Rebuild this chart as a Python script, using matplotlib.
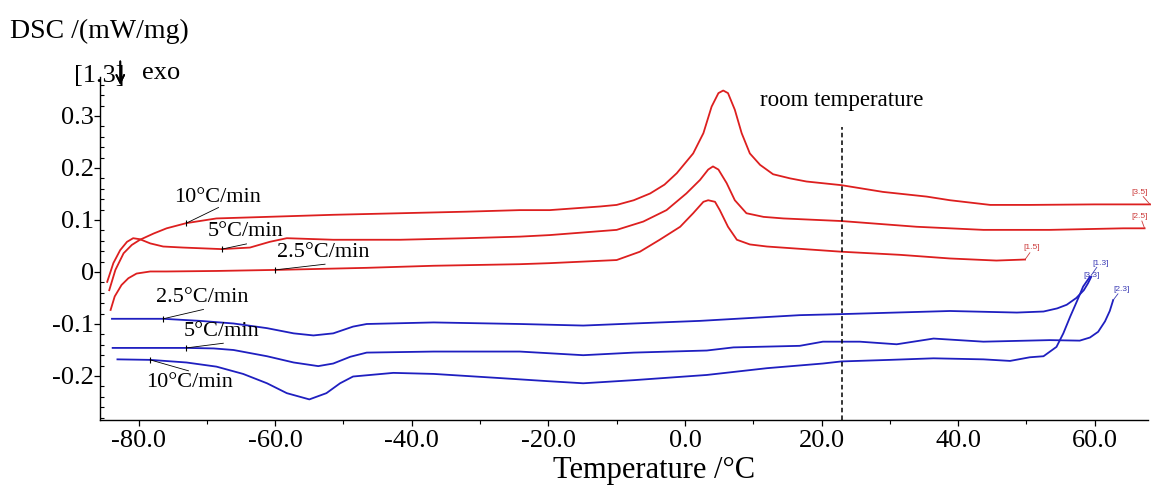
import numpy as np
import matplotlib
matplotlib.use("Agg")
import matplotlib.pyplot as plt
from matplotlib.ticker import MultipleLocator, FixedLocator, FixedFormatter

plt.rcParams['font.family'] = ['Liberation Serif', 'DejaVu Sans']

# heating curves (red): temperature /°C, DSC /(mW/mg)
r10_t = [-84.3, -83.4, -82.2, -81.0, -79.8, -77.8, -75.9, -73.0, -68.6, -61.2, -51.5, -41.7,
         -32.0, -24.2, -19.8, -12.4, -10.0, -7.5, -5.1, -3.0, -1.2, 1.2, 2.7, 3.9, 4.9, 5.6,
         6.3, 7.3, 8.3, 9.5, 11.0, 12.9, 15.4, 17.8, 22.9, 29.0, 35.4, 38.8, 44.7, 50.5,
         60.0, 68.1]
r10_d = [-0.035, 0.004, 0.036, 0.052, 0.062, 0.074, 0.084, 0.094, 0.103, 0.106, 0.110, 0.113,
         0.116, 0.119, 0.119, 0.126, 0.129, 0.138, 0.151, 0.168, 0.190, 0.228, 0.267, 0.318,
         0.344, 0.349, 0.344, 0.312, 0.267, 0.228, 0.206, 0.188, 0.180, 0.174, 0.167, 0.154,
         0.145, 0.138, 0.129, 0.129, 0.130, 0.130]

r5_t = [-84.6, -83.7, -82.7, -81.7, -80.8, -79.8, -78.3, -76.4, -73.5, -67.8, -63.7, -60.8,
        -58.3, -51.5, -41.7, -32.0, -24.2, -19.8, -10.0, -6.1, -2.7, 0.2, 2.2, 3.4, 4.1, 4.9,
        6.1, 7.3, 9.0, 11.5, 14.4, 22.9, 33.9, 43.7, 53.4, 64.2, 67.3]
r5_d = [-0.019, 0.017, 0.042, 0.058, 0.065, 0.063, 0.055, 0.049, 0.047, 0.044, 0.047, 0.058,
        0.065, 0.062, 0.062, 0.065, 0.068, 0.071, 0.081, 0.097, 0.119, 0.151, 0.177, 0.197,
        0.203, 0.197, 0.171, 0.138, 0.113, 0.106, 0.103, 0.098, 0.087, 0.081, 0.081, 0.084,
        0.084]

r2_t = [-84.1, -83.5, -82.5, -81.5, -80.3, -78.3, -75.9, -68.6, -60.0, -46.6, -36.8, -24.2,
        -19.8, -10.0, -6.6, -3.7, -0.7, 1.2, 2.7, 3.4, 4.4, 5.1, 6.3, 7.6, 9.5, 12.0, 22.9,
        31.5, 38.8, 45.6, 49.8]
r2_d = [-0.073, -0.047, -0.025, -0.012, -0.003, 0.001, 0.001, 0.002, 0.004, 0.008, 0.012,
        0.015, 0.017, 0.023, 0.039, 0.062, 0.087, 0.113, 0.135, 0.138, 0.135, 0.119, 0.087,
        0.062, 0.053, 0.049, 0.039, 0.033, 0.026, 0.022, 0.024]

# cooling curves (blue)
b2_t = [-83.9, -76.4, -71.0, -66.1, -61.2, -57.3, -54.4, -51.5, -48.6, -46.6, -36.8, -24.2,
        -14.9, -7.5, 2.2, 16.8, 22.9, 38.8, 48.6, 52.5, 54.5, 55.9, 57.3, 58.4, 59.0, 59.5]
b2_d = [-0.090, -0.090, -0.094, -0.099, -0.108, -0.118, -0.122, -0.118, -0.105, -0.100,
        -0.097, -0.100, -0.103, -0.099, -0.094, -0.083, -0.081, -0.075, -0.078, -0.076,
        -0.070, -0.063, -0.050, -0.035, -0.022, -0.009]

b5_t = [-83.8, -73.0, -69.0, -66.1, -61.2, -57.3, -53.7, -51.5, -49.0, -46.6, -36.8, -24.2,
        -14.9, -7.5, 3.2, 7.1, 16.8, 20.2, 25.6, 31.0, 36.4, 43.7, 53.4, 57.8, 59.3, 60.5,
        61.5, 62.2, 62.7]
b5_d = [-0.146, -0.146, -0.147, -0.150, -0.162, -0.174, -0.181, -0.176, -0.163, -0.155,
        -0.153, -0.153, -0.160, -0.155, -0.151, -0.145, -0.142, -0.134, -0.134, -0.139,
        -0.128, -0.134, -0.131, -0.132, -0.126, -0.115, -0.095, -0.075, -0.054]

b10_t = [-83.1, -78.3, -73.0, -68.6, -64.7, -61.2, -58.3, -55.0, -52.5, -50.5, -48.6, -42.7,
         -36.8, -27.1, -20.0, -14.9, -7.5, 3.2, 12.0, 20.2, 22.9, 30.0, 36.4, 43.7, 47.6,
         50.5, 52.5, 54.4, 55.4, 56.4, 57.4, 58.3, 59.3]
b10_d = [-0.168, -0.169, -0.174, -0.182, -0.196, -0.214, -0.233, -0.245, -0.233, -0.214,
         -0.201, -0.194, -0.196, -0.204, -0.210, -0.214, -0.208, -0.198, -0.185, -0.176,
         -0.172, -0.169, -0.166, -0.168, -0.171, -0.164, -0.162, -0.144, -0.118, -0.086,
         -0.056, -0.028, -0.009]

# rate labels: text, text position, leader start, point on curve
rate_labels = ["10°C/min", "5°C/min", "2.5°C/min", "2.5°C/min", "5°C/min", "10°C/min"]
rate_text_xy = [(-68.4, 0.144), (-64.3, 0.077), (-52.9, 0.038),
                (-70.7, -0.050), (-67.8, -0.115), (-72.6, -0.212)]
rate_line_xy = [(-68.3, 0.124), (-64.2, 0.054), (-52.7, 0.015),
                (-70.5, -0.072), (-67.6, -0.137), (-72.7, -0.190)]
rate_point_xy = [(-73.0, 0.094), (-67.8, 0.044), (-60.0, 0.004),
                 (-76.4, -0.090), (-73.0, -0.146), (-78.3, -0.169)]

# segment tags at the end of every curve
end_tags = ["[3.5]", "[2.5]", "[1.5]", "[1.3]", "[3.3]", "[2.3]"]
end_tag_xy = [(66.6, 0.153), (66.6, 0.106), (50.8, 0.047), (60.8, 0.017), (59.5, -0.006), (63.9, -0.033)]
end_line_a = [(67.1, 0.145), (66.9, 0.098), (50.5, 0.037), (60.3, 0.009), None, (63.4, -0.042)]
end_line_b = [(68.1, 0.130), (67.3, 0.084), (49.8, 0.024), (59.5, -0.006), None, (62.7, -0.054)]

room_t = 23.0

red = '#dd1f1f'
blue = '#1f1fc0'

fig = plt.figure(figsize=(11.51, 4.87), dpi=100)
ax = fig.add_axes([0.0869, 0.1376, 0.9105, 0.7043])

for t, d in [(r10_t, r10_d), (r5_t, r5_d), (r2_t, r2_d)]:
    ax.plot(t, d, color=red, lw=1.3, clip_on=False)
for t, d in [(b2_t, b2_d), (b5_t, b5_d), (b10_t, b10_d)]:
    ax.plot(t, d, color=blue, lw=1.3, clip_on=False)

ax.plot([room_t, room_t], [-0.2846, 0.279], color='k', ls=(0, (3, 2)), lw=1.1)
ax.text(room_t - 12, 0.31, "room temperature", fontsize=16.5, ha='left', va='bottom')

for lab, txy, lxy, pxy in zip(rate_labels, rate_text_xy, rate_line_xy, rate_point_xy):
    ax.text(txy[0], txy[1], lab, fontsize=16, ha='center', va='center')
    ax.plot([lxy[0], pxy[0]], [lxy[1], pxy[1]], color='k', lw=0.6)
    ax.plot([pxy[0]], [pxy[1]], marker='|', color='k', ms=5, mew=0.8)

for i, tag in enumerate(end_tags):
    col = '#cc3b3b' if i < 3 else '#3b3bb5'
    ax.text(end_tag_xy[i][0], end_tag_xy[i][1], tag, fontsize=6, color=col,
            ha='center', va='center', family='Liberation Sans', clip_on=False)
    if end_line_a[i] is not None:
        ax.plot([end_line_a[i][0], end_line_b[i][0]], [end_line_a[i][1], end_line_b[i][1]],
                color=col, lw=0.6, clip_on=False)

ax.set_xlim(-85.65, 67.8)
ax.set_ylim(-0.2846, 0.375)

ax.spines['top'].set_visible(False)
ax.spines['right'].set_visible(False)
ax.spines['left'].set_linewidth(1.0)
ax.spines['bottom'].set_linewidth(1.0)

xt = [-80, -60, -40, -20, 0, 20, 40, 60]
ax.xaxis.set_major_locator(FixedLocator(xt))
ax.xaxis.set_major_formatter(FixedFormatter(["%.1f" % v for v in xt]))
ax.xaxis.set_minor_locator(MultipleLocator(10))
yt = [-0.2, -0.1, 0, 0.1, 0.2, 0.3]
ax.yaxis.set_major_locator(FixedLocator(yt))
ax.yaxis.set_major_formatter(FixedFormatter(["-0.2", "-0.1", "0", "0.1", "0.2", "0.3"]))
ax.yaxis.set_minor_locator(MultipleLocator(0.02))
ax.tick_params(axis='both', which='major', direction='out', length=4, width=0.9, labelsize=19)
ax.tick_params(axis='x', which='major', pad=3)
ax.tick_params(axis='y', which='major', pad=0.5)
ax.tick_params(axis='x', which='minor', direction='out', length=3, width=0.8)
ax.tick_params(axis='y', which='minor', direction='in', length=3, width=0.8)

ax.set_xlabel("Temperature /°C", fontsize=22)
ax.xaxis.set_label_coords(0.5286, -0.105)

fig.text(0.009, 0.91, "DSC /(mW/mg)", fontsize=20, ha='left', va='bottom')
fig.text(0.064, 0.822, "[1.3]", fontsize=19, ha='left', va='bottom')
# exo direction arrow
fig.add_artist(plt.annotate("", xy=(0.1045, 0.826), xytext=(0.1045, 0.874),
                            xycoords='figure fraction', textcoords='figure fraction',
                            arrowprops=dict(arrowstyle='->', lw=1.3, color='k',
                                            mutation_scale=14, shrinkA=0, shrinkB=0)))
fig.text(0.123, 0.827, "exo", fontsize=19, ha='left', va='bottom')

fig.savefig("out.png", dpi=100)
